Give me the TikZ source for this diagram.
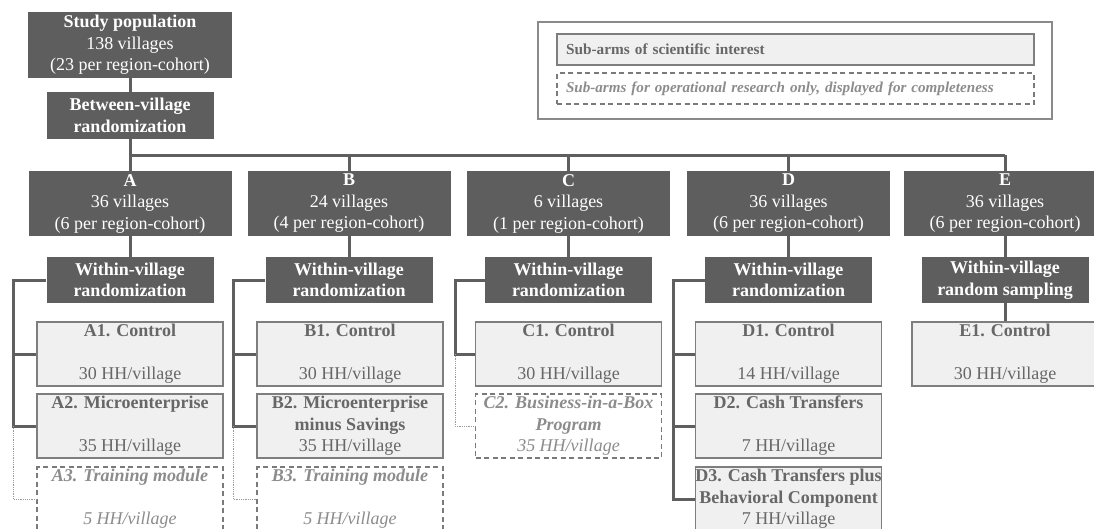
\documentclass[tikz,border=0pt]{standalone}
\usepackage{fontspec}
\setmainfont{Liberation Serif}
\definecolor{darkfill}{HTML}{5E5E5E}
\definecolor{linecol}{HTML}{5F5F5F}
\definecolor{lightfill}{HTML}{F0F0F0}
\definecolor{lightborder}{HTML}{7E7E7E}
\definecolor{lighttext}{HTML}{676767}
\definecolor{optext}{HTML}{8C8C8C}
\definecolor{opborder}{HTML}{7A7A7A}
\definecolor{dotcol}{HTML}{9A9A9A}
\definecolor{legborder}{HTML}{8A8A8A}
\begin{document}
\begin{tikzpicture}[x=1pt,y=-1pt,
  txt/.style={align=center, inner sep=0pt, font=\fontsize{18}{21.5}\selectfont},
  dark/.style={txt, fill=darkfill, text=white},
  light/.style={txt, fill=lightfill, draw=lightborder, line width=1.6pt, text=lighttext,
    minimum width=186pt, minimum height=64pt},
  opbox/.style={txt, draw=opborder, line width=1.3pt, dash pattern=on 5pt off 3.5pt, text=optext,
    minimum width=186pt, minimum height=64pt},
  armbox/.style={dark, minimum width=203pt, minimum height=65pt},
  withinbox/.style={dark, minimum width=167pt, minimum height=46pt},
  conn/.style={draw=linecol, line width=3pt},
  dotconn/.style={draw=dotcol, line width=0.8pt, densely dotted},
]
\clip (0,0) rectangle (1094,528);
\fill[white] (0,0) rectangle (1094,528);

% top
\node[dark, minimum width=204pt, minimum height=66pt] (pop) at (130,45)
  {\textbf{Study population}\\138 villages\\(23 per region-cohort)};
\node[dark, minimum width=167pt, minimum height=47pt] (btw) at (130,115.5)
  {\textbf{Between-village}\\\textbf{randomization}};

% legend
\node[draw=legborder, line width=1.2pt, minimum width=514pt, minimum height=97pt, inner sep=0pt] (leg) at (795,70.5) {};
\node[fill=lightfill, draw=lightborder, line width=1.6pt, minimum width=477pt, minimum height=31pt,
  text width=459pt, inner xsep=9pt, inner ysep=0pt, align=left, text=lighttext,
  font=\fontsize{15.3}{18}\selectfont\bfseries] (legA) at (795.5,49.5) {Sub-arms of scientific interest};
\node[draw=opborder, line width=1.3pt, dash pattern=on 5pt off 3.5pt, minimum width=477pt, minimum height=31pt,
  text width=459pt, inner xsep=9pt, inner ysep=0pt, align=left, text=optext,
  font=\fontsize{15.1}{18}\selectfont\bfseries\itshape] (legB) at (795.5,88.5) {Sub-arms for operational research only, displayed for completeness};

% arms
\node[armbox] (A) at (130,203.5) {\textbf{A}\\36 villages\\(6 per region-cohort)};
\node[armbox] (B) at (349,203.5) {\textbf{B}\\24 villages\\(4 per region-cohort)};
\node[armbox] (C) at (568.5,203.5) {\textbf{C}\\6 villages\\(1 per region-cohort)};
\node[armbox] (D) at (788.5,203.5) {\textbf{D}\\36 villages\\(6 per region-cohort)};
\node[armbox] (E) at (1005,203.5) {\textbf{E}\\36 villages\\(6 per region-cohort)};

% within
\node[withinbox] (Aw) at (130,280) {\textbf{Within-village}\\\textbf{randomization}};
\node[withinbox] (Bw) at (349,280) {\textbf{Within-village}\\\textbf{randomization}};
\node[withinbox] (Cw) at (568.5,280) {\textbf{Within-village}\\\textbf{randomization}};
\node[withinbox] (Dw) at (788.5,280) {\textbf{Within-village}\\\textbf{randomization}};
\node[withinbox] (Ew) at (1005,280) {\textbf{Within-village}\\\textbf{random sampling}};

% sub-arms
\node[light] (A1) at (130,354) {\textbf{A1. Control}\\~\\30 HH/village};
\node[light] (A2) at (130,426) {\textbf{A2. Microenterprise}\\~\\35 HH/village};
\node[opbox] (A3) at (130,499) {\textbf{\itshape A3. Training module}\\~\\\itshape 5 HH/village};

\node[light] (B1) at (350,354) {\textbf{B1. Control}\\~\\30 HH/village};
\node[light] (B2) at (350,426) {\textbf{B2. Microenterprise}\\\textbf{minus Savings}\\35 HH/village};
\node[opbox] (B3) at (350,499) {\textbf{\itshape B3. Training module}\\~\\\itshape 5 HH/village};

\node[light] (C1) at (568.5,354) {\textbf{C1. Control}\\~\\30 HH/village};
\node[opbox] (C2) at (568.5,426) {\textbf{\itshape C2. Business-in-a-Box}\\\textbf{\itshape Program}\\\itshape 35 HH/village};

\node[light] (D1) at (788.5,354) {\textbf{D1. Control}\\~\\14 HH/village};
\node[light] (D2) at (788.5,426) {\textbf{D2. Cash Transfers}\\~\\7 HH/village};
\node[light] (D3) at (788.5,499) {\textbf{D3. Cash Transfers plus}\\\textbf{Behavioral Component}\\7 HH/village};

\node[light] (E1) at (1005,354) {\textbf{E1. Control}\\~\\30 HH/village};

% main connectors
\coordinate (hl) at (130,155);
\draw[conn] (pop.south) -- (btw.north);
\draw[conn] (btw.south) -- (A.north);
\draw[conn] (A.north |- hl) -- (E.north |- hl);
\draw[conn] (B.north |- hl) -- (B.north);
\draw[conn] (C.north |- hl) -- (C.north);
\draw[conn] (D.north |- hl) -- (D.north);
\draw[conn] (E.north |- hl) -- (E.north);
\foreach \a in {A,B,C,D,E} { \draw[conn] (\a.south) -- (\a w.north); }
\draw[conn] (Ew.south) -- (E1.north);

% brackets
\coordinate (xA) at (13.5,0);
\coordinate (xB) at (233,0);
\coordinate (xC) at (455,0);
\coordinate (xD) at (673,0);

\draw[conn] (Aw.west) -| (A2.west -| xA) -- (A2.west);
\draw[conn] (A1.west -| xA) -- (A1.west);
\draw[dotconn] (A2.west -| xA) |- (A3.west);

\draw[conn] (Bw.west) -| (B2.west -| xB) -- (B2.west);
\draw[conn] (B1.west -| xB) -- (B1.west);
\draw[dotconn] (B2.west -| xB) |- (B3.west);

\draw[conn] (Cw.west) -| (C1.west -| xC) -- (C1.west);
\draw[dotconn] (C1.west -| xC) |- (C2.west);

\draw[conn] (Dw.west) -| (D3.west -| xD) -- (D3.west);
\draw[conn] (D1.west -| xD) -- (D1.west);
\draw[conn] (D2.west -| xD) -- (D2.west);
\end{tikzpicture}
\end{document}
